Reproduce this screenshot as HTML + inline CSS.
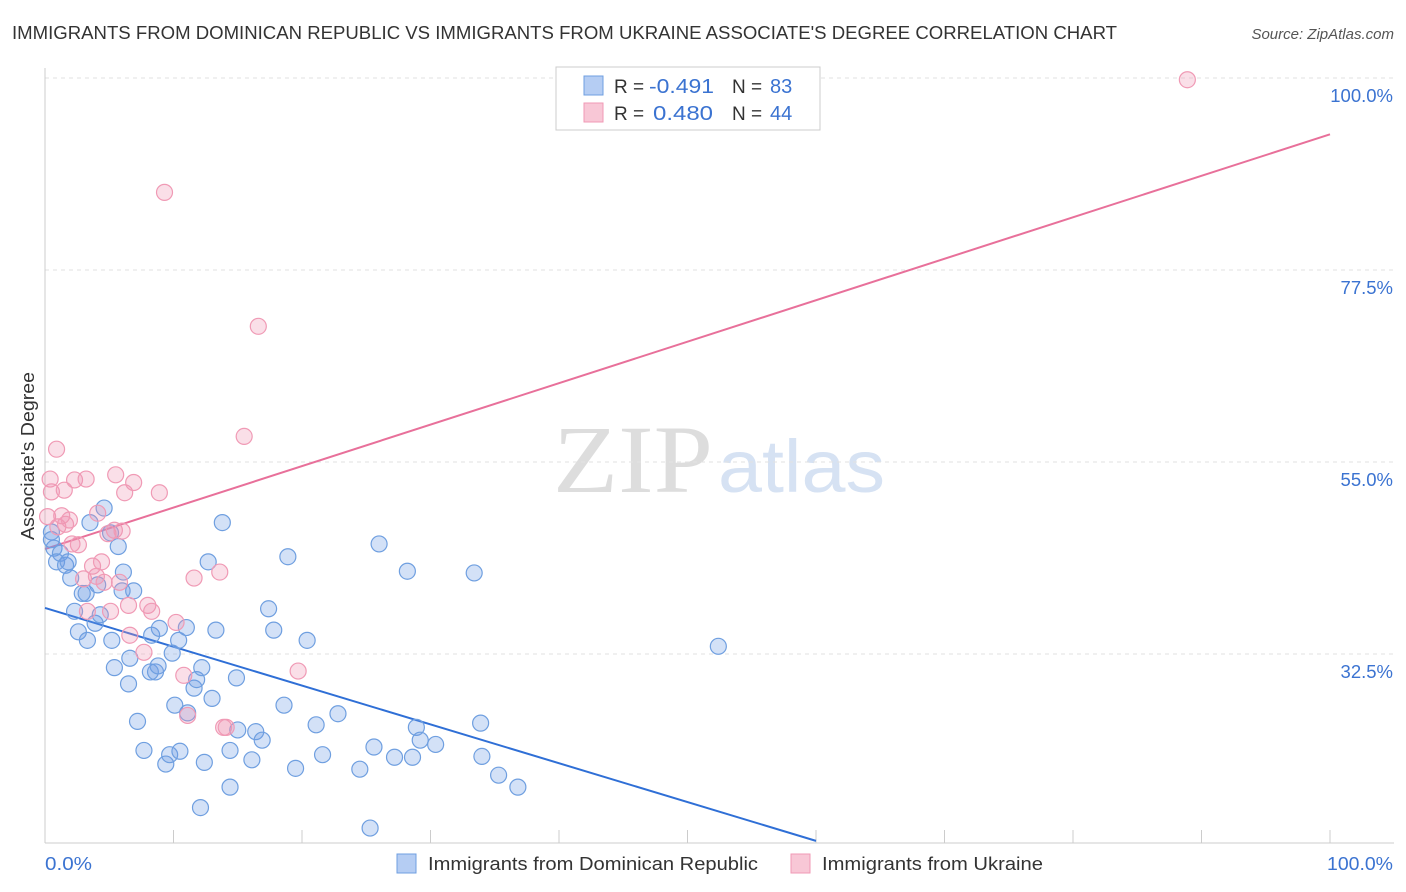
<!DOCTYPE html>
<html><head><meta charset="utf-8"><style>
body{margin:0;background:#fff;font-family:"Liberation Sans",sans-serif;}
svg{display:block}
</style></head><body>
<svg id="chart" width="1406" height="892">
<text x="12" y="39" font-size="18" fill="#333" textLength="1105" lengthAdjust="spacingAndGlyphs">IMMIGRANTS FROM DOMINICAN REPUBLIC VS IMMIGRANTS FROM UKRAINE ASSOCIATE'S DEGREE CORRELATION CHART</text>
<text x="1394" y="39" font-size="15" fill="#555" text-anchor="end" font-style="italic">Source: ZipAtlas.com</text>
<text x="553" y="492" font-size="96" fill="#ddd" textLength="160" lengthAdjust="spacingAndGlyphs" font-family="Liberation Serif,serif">ZIP</text>
<text x="718" y="492" font-size="74" fill="#d6e2f3" textLength="167" lengthAdjust="spacingAndGlyphs">atlas</text>
<g id="grid"></g><g id="axes"></g><g id="lines"></g><g id="pts"></g>
<text x="34" y="456" font-size="18" fill="#333" text-anchor="middle" textLength="168" lengthAdjust="spacingAndGlyphs" transform="rotate(-90 34 456)">Associate's Degree</text>
<text x="45" y="870" font-size="18" fill="#3b73d1" textLength="47" lengthAdjust="spacingAndGlyphs">0.0%</text>
<text x="1327" y="870" font-size="18" fill="#3b73d1" textLength="66" lengthAdjust="spacingAndGlyphs">100.0%</text>
<g>
<rect x="556" y="67" width="264" height="63" fill="#fff" stroke="#ccc"/>
<rect x="584" y="76" width="19" height="19" fill="#b5cdf3" stroke="#6f9fe0"/>
<rect x="584" y="103" width="19" height="19" fill="#f8c7d6" stroke="#f09ab5"/>
<text x="614" y="93" font-size="19" fill="#333">R =</text>
<text x="649" y="93" font-size="20" fill="#3b73d1" textLength="65" lengthAdjust="spacingAndGlyphs">-0.491</text>
<text x="732" y="93" font-size="19" fill="#333">N =</text>
<text x="770" y="93" font-size="20" fill="#3b73d1">83</text>
<text x="614" y="120" font-size="19" fill="#333">R =</text>
<text x="653" y="120" font-size="20" fill="#3b73d1" textLength="60" lengthAdjust="spacingAndGlyphs">0.480</text>
<text x="732" y="120" font-size="19" fill="#333">N =</text>
<text x="770" y="120" font-size="20" fill="#3b73d1">44</text>
</g>
<g>
<rect x="397" y="854" width="19" height="19" fill="#b5cdf3" stroke="#6f9fe0"/>
<text x="428" y="870" font-size="18" fill="#333" textLength="330" lengthAdjust="spacingAndGlyphs">Immigrants from Dominican Republic</text>
<rect x="791" y="854" width="19" height="19" fill="#f8c7d6" stroke="#f09ab5"/>
<text x="822" y="870" font-size="18" fill="#333" textLength="221" lengthAdjust="spacingAndGlyphs">Immigrants from Ukraine</text>
</g>
</svg>
<script>
const yTicks=[32.5,55,77.5,100];
const yTickLabels=["32.5%","55.0%","77.5%","100.0%"];
const xTicks=[0,10,20,30,40,50,60,70,80,90,100];
const blueX=[0.5,0.7,1.2,0.9,1.6,1.8,2.0,3.5,4.6,2.3,2.6,2.9,3.2,3.3,3.9,4.1,4.3,5.1,5.7,6.1,6.0,6.9,5.4,6.5,6.6,5.2,7.2,7.7,8.2,8.3,8.6,8.8,8.9,9.4,9.7,9.9,10.1,10.5,10.4,11.0,11.1,11.6,11.8,12.1,12.2,12.4,12.7,13.0,13.3,13.8,14.4,14.4,14.9,15.0,16.1,16.4,16.9,17.4,17.8,18.6,18.9,19.5,20.4,21.1,21.6,22.8,24.5,25.3,25.6,26.0,27.2,28.2,28.6,28.9,29.2,30.4,33.4,33.9,34.0,35.3,36.8,52.4,0.5];
const blueY=[46.8,44.9,44.3,43.3,42.9,43.3,41.4,47.9,49.6,37.5,35.1,39.6,39.6,34.1,36.1,40.6,37.1,46.7,45.1,42.1,39.9,39.9,30.9,29.0,32.0,34.1,24.6,21.2,30.4,34.7,30.4,31.1,35.5,19.6,20.7,32.6,26.5,21.1,34.1,35.6,25.6,28.5,29.5,14.5,30.9,19.8,43.3,27.3,35.3,47.9,21.2,16.9,29.7,23.6,20.1,23.4,22.4,37.8,35.3,26.5,43.9,19.1,34.1,24.2,20.7,25.5,19.0,12.1,21.6,45.4,20.4,42.2,20.4,23.9,22.4,21.9,42.0,24.4,20.5,18.3,16.9,33.4,45.9];
const pinkX=[0.2,0.4,0.5,0.9,1.0,1.3,1.5,1.6,1.9,2.1,2.3,2.6,3.0,3.2,3.3,3.7,4.0,4.1,4.4,4.6,4.9,5.1,5.4,5.5,5.8,6.0,6.2,6.5,6.6,6.9,7.7,8.0,8.3,8.9,9.3,10.2,10.8,11.1,11.6,13.6,13.9,14.1,15.5,16.6,19.7,88.9];
const pinkY=[48.6,53.0,51.5,56.5,47.4,48.7,51.7,47.7,48.2,45.4,52.9,45.3,41.3,53.0,37.5,42.8,41.6,49.0,43.3,40.9,46.6,37.5,47.0,53.5,40.9,46.9,51.4,38.2,34.7,52.6,32.7,38.2,37.5,51.4,86.6,36.2,30.0,25.3,41.4,42.1,23.9,23.9,58.0,70.9,30.5,99.8];
const blueTrend=[37.9,-0.455];
const pinkTrend=[44.8,0.486];
const NS="http://www.w3.org/2000/svg";
function sx(v){return 45+v*12.85;}
function sy(v){return 654-(v-32.5)*8.533;}
function mk(tag,attrs,parent){const e=document.createElementNS(NS,tag);for(const k in attrs)e.setAttribute(k,attrs[k]);document.getElementById(parent).appendChild(e);return e;}
yTicks.forEach((t,i)=>{
 const l=mk('line',{x1:45,x2:1394,y1:sy(t),y2:sy(t),stroke:'#e2e2e2','stroke-dasharray':'4,4'},'grid');
 
 
 const tx=mk('text',{x:1393,y:sy(t)+24,'font-size':18.5,fill:'#3b73d1','text-anchor':'end'},'grid');
 tx.textContent=yTickLabels[i];
 
 
});
const ax=mk('line',{x1:45,x2:45,y1:68,y2:843,stroke:'#ccc'},'axes');


const bx=mk('line',{x1:45,x2:1394,y1:843,y2:843,stroke:'#ccc'},'axes');


xTicks.forEach(t=>{
 const l=mk('line',{x1:sx(t),x2:sx(t),y1:830,y2:843,stroke:'#ccc'},'axes');
 
 
});
function pts(X,Y,fill,stroke,name){
 X.forEach((x,i)=>{
  const c=mk('circle',{cx:sx(x),cy:sy(Y[i]),r:8,fill:fill,stroke:stroke,'stroke-width':1.2},'pts');
  
  
 });
}
pts(blueX,blueY,'rgba(110,155,230,0.3)','#6f9fe0','dominican-point');
pts(pinkX,pinkY,'rgba(240,150,180,0.3)','#f09ab5','ukraine-point');
const bEnd=60;
const bl=mk('line',{x1:sx(0),y1:sy(blueTrend[0]),x2:sx(bEnd),y2:sy(blueTrend[0]+blueTrend[1]*bEnd),stroke:'#2f6fd6','stroke-width':2},'lines');


const pl=mk('line',{x1:sx(0),y1:sy(pinkTrend[0]),x2:sx(100),y2:sy(pinkTrend[0]+pinkTrend[1]*100),stroke:'#e8709a','stroke-width':2},'lines');


</script>
</body></html>
